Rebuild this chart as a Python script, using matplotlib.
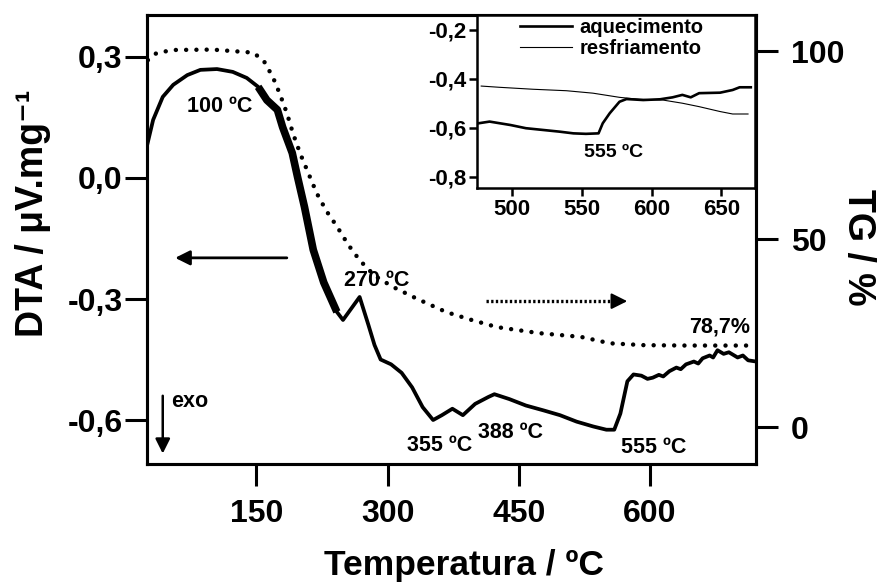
import matplotlib
matplotlib.use("Agg")
import matplotlib.pyplot as plt
import numpy as np

plt.rcParams['font.family'] = ['Liberation Sans', 'DejaVu Sans']
plt.rcParams['font.weight'] = 'bold'

# DTA curve (left axis), heating
dta_T = [25, 32, 43, 55, 71, 86, 105, 123, 139, 152, 162, 174, 180, 191, 197, 205,
         215, 227, 242, 249, 258, 268, 278, 285, 292, 304, 316, 328, 340, 352, 362,
         374, 386, 400, 415, 422, 439, 458, 478, 497, 516, 535, 550, 559, 566, 574,
         581, 590, 597, 603, 610, 615, 622, 630, 635, 641, 650, 655, 660, 668, 672,
         677, 684, 690, 700, 706, 712, 718]
dta_v = [0.080, 0.144, 0.201, 0.231, 0.255, 0.268, 0.270, 0.263, 0.248, 0.226, 0.193,
         0.169, 0.126, 0.062, 0.003, -0.072, -0.178, -0.259, -0.332, -0.352, -0.325,
         -0.295, -0.364, -0.414, -0.450, -0.462, -0.483, -0.519, -0.568, -0.600,
         -0.588, -0.572, -0.588, -0.560, -0.543, -0.536, -0.548, -0.564, -0.576,
         -0.588, -0.604, -0.616, -0.624, -0.624, -0.584, -0.504, -0.487, -0.490,
         -0.498, -0.495, -0.488, -0.492, -0.479, -0.470, -0.474, -0.462, -0.455,
         -0.460, -0.447, -0.440, -0.445, -0.427, -0.436, -0.432, -0.445, -0.440,
         -0.452, -0.454]

# TG curve (right axis)
tg_T = [26, 36, 55, 100, 146, 158, 169, 177, 185, 192, 200, 210, 219, 230, 242, 255,
        268, 285, 306, 333, 367, 396, 425, 473, 521, 554, 593, 641, 721]
tg_v = [97.6, 99.5, 100.3, 100.4, 99.6, 97.6, 93.0, 88.5, 83.4, 78.0, 72.8, 67.2,
        62.2, 57.5, 53.4, 48.5, 44.4, 40.3, 37.3, 34.2, 30.6, 28.5, 26.6, 25.0, 24.0,
        22.3, 21.8, 21.7, 21.7]

# inset: heating / cooling
heat_T = [476, 484, 499, 510, 522, 534, 544, 553, 562, 565, 570, 577, 582, 594, 606,
          615, 622, 628, 634, 649, 658, 663, 671]
heat_v = [-0.581, -0.574, -0.588, -0.601, -0.608, -0.615, -0.622, -0.624, -0.622,
          -0.581, -0.540, -0.493, -0.482, -0.486, -0.483, -0.475, -0.465, -0.475,
          -0.458, -0.456, -0.445, -0.434, -0.434]
cool_T = [478, 491, 515, 539, 558, 577, 591, 608, 622, 634, 649, 658, 669]
cool_v = [-0.429, -0.434, -0.442, -0.448, -0.458, -0.475, -0.483, -0.486, -0.499,
          -0.513, -0.533, -0.543, -0.543]

x_ticks = [150, 300, 450, 600]
dta_ticks = [0.3, 0.0, -0.3, -0.6]
dta_labels = ['0,3', '0,0', '-0,3', '-0,6']
tg_ticks = [0, 50, 100]
in_xticks = [500, 550, 600, 650]
in_yticks = [-0.2, -0.4, -0.6, -0.8]
in_ylabels = ['-0,2', '-0,4', '-0,6', '-0,8']

fig = plt.figure(figsize=(8.78, 5.86), dpi=100)
ax = fig.add_axes([147/878, 1-464/586, 609/878, 449/586])
ax2 = ax.twinx()

ax.plot(dta_T, dta_v, c='k', lw=2.7, solid_joinstyle='round')
seg = [(t, v) for t, v in zip(dta_T, dta_v) if 150 <= t <= 245]
ax.plot([s[0] for s in seg], [s[1] for s in seg], c='k', lw=5.5, solid_capstyle='butt')
ax2.plot(tg_T, tg_v, c='k', lw=3.2, ls=(0, (0.01, 2.3)), dash_capstyle='round')

ax.set_xlim(25, 721)
ax.set_ylim(-0.709, 0.404)
ax2.set_ylim(-9.8, 109.6)

ax.set_xticks(x_ticks)
ax.set_yticks(dta_ticks)
ax.set_yticklabels(dta_labels)
ax2.set_yticks(tg_ticks)
for a in (ax, ax2):
    for s in a.spines.values():
        s.set_linewidth(2.2)
ax.tick_params(axis='x', direction='out', length=16, width=2.2, pad=9, labelsize=23)
ax.tick_params(axis='y', direction='out', length=16, width=2.2, pad=1.5, labelsize=23)
ax2.tick_params(axis='y', direction='out', length=16, width=2.2, pad=9, labelsize=23)

fig.text(464/878, 1-565/586, 'Temperatura / ºC', ha='center', va='center', fontsize=25.5)
fig.text(33/878, 1-213/586, 'DTA / μV.mg⁻¹', ha='center', va='center', rotation=90,
         fontsize=27)
fig.text(858/878, 1-247/586, 'TG / %', ha='center', va='center', rotation=270,
         fontsize=27)

# annotations
ax.text(108, 0.178, '100 ºC', ha='center', va='center', fontsize=15.5)
ax.text(288, -0.255, '270 ºC', ha='center', va='center', fontsize=15.5)
ax.text(359, -0.662, '355 ºC', ha='center', va='center', fontsize=15.5)
ax.text(441, -0.632, '388 ºC', ha='center', va='center', fontsize=15.5)
ax.text(604, -0.667, '555 ºC', ha='center', va='center', fontsize=15.5)
ax.text(714, -0.369, '78,7%', ha='right', va='center', fontsize=15.5)
ax.text(53, -0.553, 'exo', ha='left', va='center', fontsize=15.5)

ax.annotate('', xy=(54, -0.198), xytext=(188, -0.198),
            arrowprops=dict(arrowstyle='-|>', lw=2, color='k', mutation_scale=22))
ax.annotate('', xy=(43, -0.69), xytext=(43, -0.533),
            arrowprops=dict(arrowstyle='-|>', lw=1.8, color='k', mutation_scale=22))
ax2.plot([412, 565], [33.5, 33.5], c='k', lw=2.4, ls=(0, (0.7, 0.7)))
ax2.annotate('', xy=(577, 33.5), xytext=(560, 33.5),
             arrowprops=dict(arrowstyle='-|>', lw=1.5, color='k', mutation_scale=24))

# inset
axi = fig.add_axes([477/878, 1-188/586, 278/878, 173/586])
axi.plot(heat_T, heat_v, c='k', lw=1.9, label='aquecimento')
axi.plot(cool_T, cool_v, c='k', lw=0.8, label='resfriamento')
axi.set_xlim(475, 674)
axi.set_ylim(-0.845, -0.139)
axi.set_xticks(in_xticks)
axi.set_yticks(in_yticks)
axi.set_yticklabels(in_ylabels)
for s in axi.spines.values():
    s.set_linewidth(1.8)
axi.tick_params(direction='out', length=6, width=1.8, pad=2, labelsize=16)
axi.text(573, -0.702, '555 ºC', ha='center', va='center', fontsize=14)
axi.legend(loc='upper left', bbox_to_anchor=(0.155, 0.985), frameon=False,
           fontsize=14.5, handlelength=2.6, handletextpad=0.35, labelspacing=0.1,
           borderaxespad=0, borderpad=0)

fig.savefig('out.png', dpi=100)
